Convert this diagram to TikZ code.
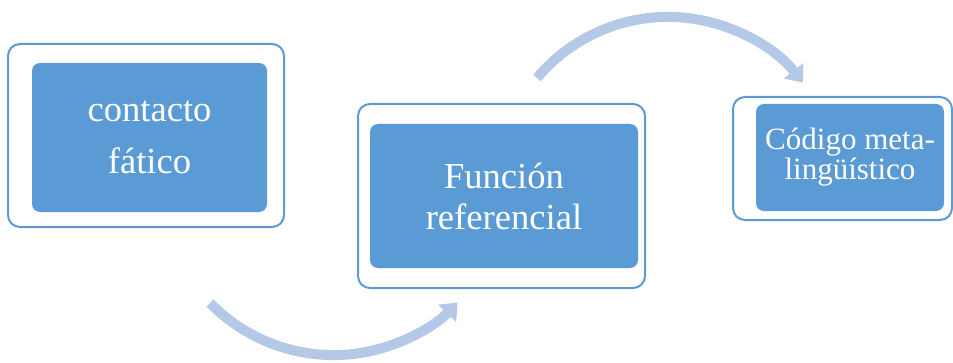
\documentclass[tikz,border=0pt]{standalone}
\usepackage{fontspec}
\setmainfont{Liberation Serif}
\usepackage{tikz}
\usetikzlibrary{calc,arrows.meta}
\definecolor{boxblue}{RGB}{91,155,213}
\definecolor{arcblue}{RGB}{180,201,231}

\begin{document}
\begin{tikzpicture}[x=1pt,y=1pt,
        frame/.style={draw=boxblue, line width=2pt, fill=white, rounded corners=12pt, inner sep=0pt},
        card/.style={fill=boxblue, text=white, rounded corners=8pt, inner sep=0pt, align=center},
        flow/.style={draw=arcblue, line width=10pt, -{Triangle[width=24pt,length=15pt]}}]
        \useasboundingbox (0,0) rectangle (953,362);
        % outer frames
        \node[frame, minimum width=276pt, minimum height=183pt] (f1) at (146,226.5) {};
        \node[frame, minimum width=287pt, minimum height=184pt] (f2) at (501.5,166) {};
        \node[frame, minimum width=219pt, minimum height=123pt] (f3) at (842.5,203.5) {};
        % filled cards
        \node[card, minimum width=235pt, minimum height=149pt,
            font=\fontsize{36.6}{52}\selectfont] (c1) at (149.5,224.5) {contacto\\f\'atico};
        \node[card, minimum width=268pt, minimum height=144pt,
            font=\fontsize{36.6}{41}\selectfont] (c2) at (504,166) {Funci\'on\\referencial};
        \node[card, minimum width=188pt, minimum height=107pt,
            font=\fontsize{31}{30}\selectfont] (c3) at (850,204.5) {C\'odigo meta-\\ling\"u\'istico};
        % curved arrows
        \coordinate (low) at (210,59);
        \coordinate (high) at (537,284);
        \draw[flow] (low) arc[start angle=224.3, end angle=315.9, radius=172.7pt];
        \draw[flow] (high) arc[start angle=140, end angle=38, radius=171pt];
\end{tikzpicture}
\end{document}
